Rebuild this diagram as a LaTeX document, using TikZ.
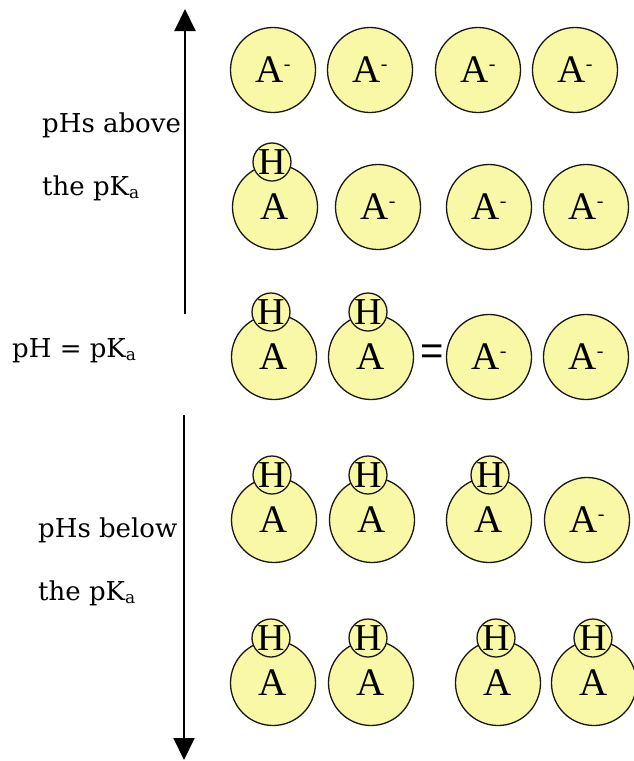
\documentclass[tikz,border=0pt]{standalone}
\usepackage{fontspec}
\setmainfont{DejaVu Serif}
\newfontfamily\atomfont{Liberation Serif}
\newfontfamily\eqfont{Liberation Sans}
\usetikzlibrary{arrows.meta}
\definecolor{atomfill}{RGB}{248,248,166}
\definecolor{atomline}{RGB}{25,25,20}
% conjugate base with its superscript charge
\newcommand\anion{A\raisebox{12pt}{\fontsize{20}{20}\selectfont -}}
% subscript a of pK_a
\newcommand\subka{\raisebox{-0.12em}{\fontsize{17}{17}\selectfont a}}
\begin{document}
\begin{tikzpicture}[x=1pt,y=-1pt,
  acid/.style={circle, draw=atomline, line width=1.3pt, fill=atomfill,
    minimum size=85pt, inner sep=0pt, font=\atomfont\fontsize{39}{39}\selectfont},
  proton/.style={circle, draw=atomline, line width=1.3pt, fill=atomfill,
    minimum size=38pt, inner sep=0pt, font=\atomfont\fontsize{38}{38}\selectfont},
  phtext/.style={anchor=base west, inner sep=0pt, font=\fontsize{26}{26}\selectfont},
  phaxis/.style={line width=2pt, -{Triangle[width=21pt,length=22pt]}}]
\useasboundingbox (0,0) rectangle (634,761);

% pH axis arrows
\coordinate (upTop) at (185,9);
\coordinate (upBot) at (185,314);
\coordinate (dnTop) at (184,415);
\coordinate (dnBot) at (184,760);
\draw[phaxis] (upBot) -- (upTop);
\draw[phaxis] (dnTop) -- (dnBot);

% labels
\node[phtext] (abv1) at (42,132) {pHs above};
\node[phtext] (abv2) at (42,195) {the pK\subka};
\node[phtext] (eqpk) at (12,357) {pH = pK\subka};
\node[phtext] (blw1) at (38,537) {pHs below};
\node[phtext] (blw2) at (38,600) {the pK\subka};

% row 1: all deprotonated
\node[acid] (a11) at (273,70) {\anion};
\node[acid] (a12) at (370,70) {\anion};
\node[acid] (a13) at (478,70) {\anion};
\node[acid] (a14) at (575,70) {\anion};

% row 2
\node[acid] (a21) at (275,207) {A};
\node[proton] (h21) at (272,162) {H};
\node[acid] (a22) at (378,207) {\anion};
\node[acid] (a23) at (489,207) {\anion};
\node[acid] (a24) at (586,207) {\anion};

% row 3: equal amounts
\node[acid] (a31) at (274,357) {A};
\node[proton] (h31) at (271,312) {H};
\node[acid] (a32) at (371,357) {A};
\node[proton] (h32) at (368,312) {H};
\node[inner sep=0pt, font=\eqfont\fontsize{40}{40}\selectfont] (eq) at (432,355) {=};
\node[acid] (a33) at (489,357) {\anion};
\node[acid] (a34) at (586,357) {\anion};

% row 4
\node[acid] (a41) at (274,520) {A};
\node[proton] (h41) at (272,475) {H};
\node[acid] (a42) at (372,520) {A};
\node[proton] (h42) at (368,475) {H};
\node[acid] (a43) at (489,520) {A};
\node[proton] (h43) at (490,475) {H};
\node[acid] (a44) at (587,520) {\anion};

% row 5: all protonated
\node[acid] (a51) at (273,683) {A};
\node[proton] (h51) at (271,638) {H};
\node[acid] (a52) at (371,683) {A};
\node[proton] (h52) at (368,638) {H};
\node[acid] (a53) at (498,683) {A};
\node[proton] (h53) at (496,638) {H};
\node[acid] (a54) at (594,683) {A};
\node[proton] (h54) at (593,638) {H};
\end{tikzpicture}
\end{document}
